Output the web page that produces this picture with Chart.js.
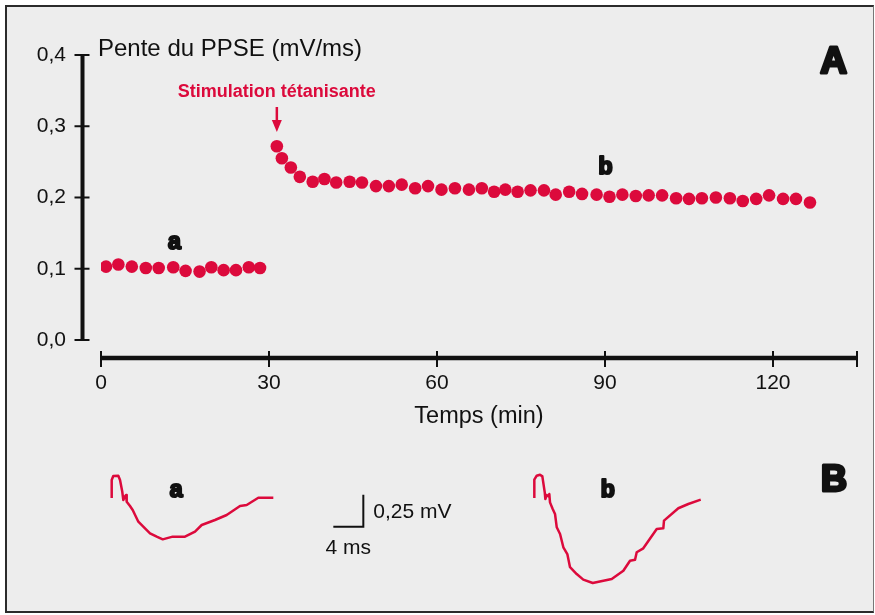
<!DOCTYPE html>
<html>
<head>
<meta charset="utf-8">
<script src="https://cdn.jsdelivr.net/npm/chart.js@4.4.1/dist/chart.umd.min.js"></script>
<style>
  html, body { margin: 0; padding: 0; background: #fff; }
  #frame {
    position: absolute; left: 5px; top: 5px; width: 869px; height: 608px;
    box-sizing: border-box; background: #ededed;
    border: 2px solid #2b2b2b; border-right: 1px solid #777;
  }
  #main { position: absolute; left: 0; top: 0; }
  #traces { position: absolute; left: 0; top: 440px; }
</style>
</head>
<body>
<div id="frame"></div>
<canvas id="main" width="875" height="615"></canvas>
<canvas id="traces" width="875" height="160"></canvas>
<script>
// Panel A : pente du PPSE (mV/ms) en fonction du temps (min)
const TICKS_X = [0, 30, 60, 90, 120];
const TICKS_Y = [0, 0.1, 0.2, 0.3, 0.4];
const X_END = 135;
const STIM_TIME = 31.4;

// before the tetanus (a)
const preTimes = [0.9, 3.1, 5.5, 8.0, 10.3, 12.9, 15.1, 17.6, 19.7, 21.9, 24.1, 26.4, 28.4];
const preSlope = [0.103, 0.106, 0.103, 0.101, 0.101, 0.102, 0.097, 0.096, 0.102, 0.098, 0.098, 0.102, 0.101];

// after the tetanus (b)
const postTimes = [31.4, 32.3, 33.9, 35.5, 37.8, 39.9, 42.0, 44.4, 46.6, 49.1, 51.4, 53.7, 56.1, 58.4, 60.8,
  63.2, 65.7, 68.0, 70.2, 72.2, 74.4, 76.7, 79.1, 81.2, 83.6, 85.9, 88.5, 90.8, 93.1, 95.5, 97.8, 100.2,
  102.7, 105.0, 107.3, 109.8, 112.3, 114.6, 117.0, 119.3, 121.8, 124.1, 126.6];
const postSlope = [0.272, 0.255, 0.242, 0.229, 0.222, 0.226, 0.221, 0.222, 0.221, 0.216, 0.216, 0.218, 0.213,
  0.216, 0.211, 0.213, 0.211, 0.213, 0.208, 0.211, 0.208, 0.210, 0.210, 0.204, 0.208, 0.205, 0.204, 0.201,
  0.204, 0.202, 0.203, 0.203, 0.199, 0.198, 0.199, 0.200, 0.199, 0.195, 0.198, 0.203, 0.198, 0.198, 0.193];

// Panel B : PPSE traces, time in ms and potential in mV from the baseline
const traceA_ms = [0, 0, 0.21, 0.88, 1.11, 1.41, 1.55, 1.73, 1.91, 2.00, 2.44, 2.80, 3.55, 4.21, 5.11, 6.00,
  6.80, 8.13, 9.77, 11.11, 12.00, 13.77, 15.33, 17.11, 18.00, 19.55, 21.55];
const traceA_mV = [0, 0.141, 0.172, 0.174, 0.141, 0.049, -0.016, 0.010, 0.023, -0.029, -0.063, -0.094, -0.185,
  -0.224, -0.276, -0.302, -0.323, -0.302, -0.302, -0.263, -0.211, -0.172, -0.133, -0.063, -0.055, 0.002, 0.002];
const traceB_ms = [0, 0, 0.32, 0.76, 1.07, 1.39, 1.47, 1.65, 1.92, 2.00, 2.09, 2.45, 2.76, 2.99, 3.43, 3.87,
  4.40, 4.76, 5.65, 6.53, 7.79, 10.32, 11.87, 12.76, 13.43, 13.65, 14.53, 16.32, 17.20, 17.29, 19.20, 20.53, 22.19];
const traceB_mV = [0, 0.143, 0.174, 0.182, 0.169, 0.044, -0.008, 0.023, 0.013, 0.031, -0.034, -0.086, -0.125,
  -0.229, -0.281, -0.385, -0.438, -0.541, -0.594, -0.638, -0.664, -0.633, -0.568, -0.490, -0.482, -0.424,
  -0.393, -0.242, -0.237, -0.177, -0.080, -0.047, -0.013];
const SCALE_MS = 4;
const SCALE_MV = 0.25;

// layout of panel B (pixels per unit and where each trace starts)
const MS_PX = 7.5, MV_PX = 128;
const TRACE_LEFT = 111.7, BASE_TOP = 58;
const TRACE_B_START = 56.35;
const BAR_T = 33.55, BAR_V = -0.224;

const RED = '#dc0a3c';
const INK = '#111';
const SANS = "'Liberation Sans', Arial, sans-serif";

const pts = (xs, ys, dx = 0) => xs.map((x, i) => ({x: x + dx, y: ys[i]}));

// very heavy letters (a, b, A, B): bold face thickened with a stroke
function heavy(ctx, txt, x, y, size, stroke) {
  ctx.font = 'bold ' + size + 'px ' + SANS;
  ctx.lineWidth = stroke;
  ctx.lineJoin = 'round';
  ctx.strokeStyle = INK;
  ctx.fillStyle = INK;
  ctx.strokeText(txt, x, y);
  ctx.fillText(txt, x, y);
}

const axesPlugin = {
  id: 'axes',
  beforeDatasetsDraw(chart) {
    const {ctx, chartArea, scales: {x, y}} = chart;
    ctx.save();
    ctx.strokeStyle = INK;
    // vertical axis, detached from the plot
    const ax = chartArea.left - 18.5;
    ctx.lineWidth = 4;
    ctx.beginPath();
    ctx.moveTo(ax, y.getPixelForValue(0) + 1);
    ctx.lineTo(ax, y.getPixelForValue(0.4) - 1);
    ctx.stroke();
    ctx.lineWidth = 2;
    TICKS_Y.forEach(v => {
      const py = y.getPixelForValue(v);
      ctx.beginPath(); ctx.moveTo(ax - 8, py); ctx.lineTo(ax + 7, py); ctx.stroke();
    });
    // horizontal axis
    const ay = chartArea.bottom + 1;
    ctx.lineWidth = 4.5;
    ctx.beginPath();
    ctx.moveTo(x.getPixelForValue(0), ay);
    ctx.lineTo(x.getPixelForValue(X_END), ay);
    ctx.stroke();
    ctx.lineWidth = 2;
    TICKS_X.concat([X_END]).forEach(v => {
      const px = x.getPixelForValue(v);
      ctx.beginPath(); ctx.moveTo(px, ay - 7); ctx.lineTo(px, ay + 9); ctx.stroke();
    });
    ctx.restore();
  }
};

const textPlugin = {
  id: 'texts',
  afterDraw(chart) {
    const {ctx, chartArea, scales: {x, y}} = chart;
    ctx.save();
    ctx.fillStyle = INK;
    ctx.textBaseline = 'alphabetic';
    ctx.textAlign = 'left';
    ctx.font = '24px ' + SANS;
    ctx.fillText('Pente du PPSE (mV/ms)', 98, 56);
    ctx.textAlign = 'center';
    ctx.font = '23.5px ' + SANS;
    ctx.fillText('Temps (min)', (chartArea.left + chartArea.right) / 2, 423);

    heavy(ctx, 'A', 833.5, 73, 37, 3);
    heavy(ctx, 'a', x.getPixelForValue(13.1), y.getPixelForValue(0.1263) - 1, 23, 2.2);
    heavy(ctx, 'b', x.getPixelForValue(90.1), y.getPixelForValue(0.2316) - 1, 23, 2.2);

    // stimulation marker
    const sx = x.getPixelForValue(STIM_TIME);
    ctx.fillStyle = RED;
    ctx.strokeStyle = RED;
    ctx.font = 'bold 18px ' + SANS;
    ctx.fillText('Stimulation tétanisante', sx, 96.5);
    ctx.lineWidth = 2.5;
    ctx.beginPath(); ctx.moveTo(sx, 107); ctx.lineTo(sx, 122); ctx.stroke();
    ctx.beginPath();
    ctx.moveTo(sx - 5, 120); ctx.lineTo(sx + 5, 120); ctx.lineTo(sx, 132); ctx.closePath();
    ctx.fill();
    ctx.restore();
  }
};

new Chart(document.getElementById('main'), {
  type: 'scatter',
  data: {
    datasets: [
      {data: pts(preTimes, preSlope), backgroundColor: RED, borderWidth: 0, pointRadius: 6.3},
      {data: pts(postTimes, postSlope), backgroundColor: RED, borderWidth: 0, pointRadius: 6.3}
    ]
  },
  options: {
    responsive: false,
    animation: false,
    events: [],
    layout: {padding: {top: 55, right: 18, left: 0, bottom: 0}},
    plugins: {legend: {display: false}, tooltip: {enabled: false}, colors: {enabled: false}},
    scales: {
      x: {
        type: 'linear', min: 0, max: X_END,
        grid: {display: false, drawTicks: false}, border: {display: false},
        afterBuildTicks: s => { s.ticks = TICKS_X.map(v => ({value: v})); },
        afterFit: s => { s.height = 258; },
        ticks: {padding: 14, color: INK, maxRotation: 0, autoSkip: false, font: {family: SANS, size: 21}}
      },
      y: {
        type: 'linear', min: -0.0239, max: 0.4,
        grid: {display: false, drawTicks: false}, border: {display: false},
        afterBuildTicks: s => { s.ticks = TICKS_Y.map(v => ({value: v})); },
        afterFit: s => { s.width = 101; },
        ticks: {padding: 35, color: INK, font: {family: SANS, size: 21},
          callback: v => v.toFixed(1).replace('.', ',')}
      }
    }
  },
  plugins: [axesPlugin, textPlugin]
});

const traceText = {
  id: 'traceText',
  afterDraw(chart) {
    const {ctx, scales: {x, y}} = chart;
    ctx.save();
    ctx.textAlign = 'center';
    heavy(ctx, 'a', x.getPixelForValue(8.6), y.getPixelForValue(0) - 1, 23, 2.2);
    heavy(ctx, 'b', x.getPixelForValue(TRACE_B_START + 9.8), y.getPixelForValue(0) - 1, 23, 2.2);
    heavy(ctx, 'B', 834, 51, 36, 3);
    ctx.font = '21px ' + SANS;
    ctx.fillStyle = INK;
    ctx.textAlign = 'left';
    ctx.fillText('0,25 mV', x.getPixelForValue(BAR_T) + 10, y.getPixelForValue(BAR_V + SCALE_MV / 2) + 7);
    ctx.textAlign = 'center';
    ctx.fillText('4 ms', x.getPixelForValue(BAR_T - SCALE_MS / 2), y.getPixelForValue(BAR_V) + 27);
    ctx.restore();
  }
};

const lineStyle = {showLine: true, pointRadius: 0, borderWidth: 2.5, tension: 0, borderJoinStyle: 'round', fill: false};

new Chart(document.getElementById('traces'), {
  type: 'scatter',
  data: {
    datasets: [
      Object.assign({data: pts(traceA_ms, traceA_mV), borderColor: RED}, lineStyle),
      Object.assign({data: pts(traceB_ms, traceB_mV, TRACE_B_START), borderColor: RED}, lineStyle),
      {data: [{x: BAR_T - SCALE_MS, y: BAR_V}, {x: BAR_T, y: BAR_V}, {x: BAR_T, y: BAR_V + SCALE_MV}],
        showLine: true, pointRadius: 0, borderWidth: 2, borderColor: INK, tension: 0,
        borderJoinStyle: 'miter', fill: false}
    ]
  },
  options: {
    responsive: false,
    animation: false,
    events: [],
    layout: {padding: 0},
    plugins: {legend: {display: false}, tooltip: {enabled: false}, colors: {enabled: false}},
    scales: {
      x: {type: 'linear', display: false, min: -TRACE_LEFT / MS_PX, max: (875 - TRACE_LEFT) / MS_PX},
      y: {type: 'linear', display: false, min: (BASE_TOP - 160) / MV_PX, max: BASE_TOP / MV_PX}
    }
  },
  plugins: [traceText]
});
</script>
</body>
</html>
